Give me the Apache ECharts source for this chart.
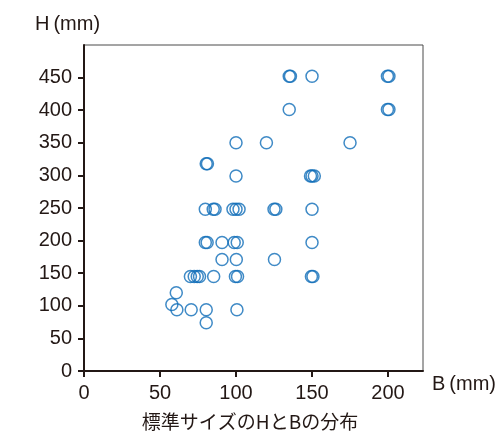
<!DOCTYPE html>
<html>
<head>
<meta charset="utf-8">
<script src="https://cdn.jsdelivr.net/npm/echarts@6/dist/echarts.min.js"></script>
<style>
html,body{margin:0;padding:0;background:#fff;}
#chart{width:500px;height:435px;}
</style>
</head>
<body>
<div id="chart"></div>
<script>
// B (mm) values
const bValues = [
  135, 135.8, 150, 199.6, 200.6,
  135, 199.6, 200.6,
  80.4, 81.2,
  100, 120, 175,
  100, 149, 150, 151.5,
  79.8, 85, 86.2, 98, 100, 102, 125, 126.2, 150,
  79.8, 81, 90.8, 98.8, 100.8, 150,
  90.8, 100.2, 125.3,
  70, 72.5, 74.5, 76, 85.3, 99.6, 101, 149.6, 150.6,
  60.7, 57.8, 61.1, 70.5, 80.4, 80.4, 100.6
];
// H (mm) values
const hValues = [
  452, 452, 452, 452, 452,
  401, 401, 401,
  318, 318,
  350, 350, 350,
  299, 299, 299, 299,
  248, 248, 248, 248, 248, 248, 248, 248, 248,
  197, 197, 197, 197, 197, 197,
  171, 171, 171,
  145, 145, 145, 145, 145, 145, 145, 145, 145,
  120, 102, 94, 94, 94, 74, 94
];
const xTicks = [0, 50, 100, 150, 200];
const yTicks = [0, 50, 100, 150, 200, 250, 300, 350, 400, 450];
const xAxisTitle = 'B\u2009(mm)';
const yAxisTitle = 'H\u2009(mm)';
const caption = '標準サイズのHとBの分布';

const points = bValues.map((b, i) => [b, hValues[i]]);
const ink = '#231815';
const blue = '#0f6db8';
const numFont = 'Liberation Sans';

const chart = echarts.init(document.getElementById('chart'), null, {renderer: 'canvas'});
chart.setOption({
  animation: false,
  backgroundColor: '#fff',
  grid: {
    left: 84, top: 45, right: 77, bottom: 64,
    show: true, borderColor: '#4a4a4a', borderWidth: 1,
    backgroundColor: 'transparent',
    containLabel: false, outerBoundsMode: 'none'
  },
  xAxis: {
    type: 'value', min: 0, max: 223,
    axisLine: {show: true, onZero: false, lineStyle: {color: ink, width: 2}},
    axisTick: {show: true, length: 6, customValues: xTicks, lineStyle: {color: ink, width: 2}},
    axisLabel: {customValues: xTicks, margin: 12, fontFamily: numFont, fontSize: 20, color: ink},
    splitLine: {show: false}
  },
  yAxis: {
    type: 'value', min: 0, max: 500,
    axisLine: {show: true, onZero: false, lineStyle: {color: ink, width: 2}},
    axisTick: {show: true, length: 6, customValues: yTicks, lineStyle: {color: ink, width: 2}},
    axisLabel: {customValues: yTicks, margin: 12, fontFamily: numFont, fontSize: 20, color: ink},
    splitLine: {show: false}
  },
  graphic: [
    {type: 'text', left: 35, top: 14, style: {text: yAxisTitle, fontFamily: numFont, fontSize: 20, fill: ink}},
    {type: 'text', left: 432, top: 374, style: {text: xAxisTitle, fontFamily: numFont, fontSize: 20, fill: ink}},
    {type: 'text', left: 'center', top: 412, style: {text: caption, fontFamily: 'Noto Sans CJK JP', fontSize: 19, fill: ink}}
  ],
  series: [{
    type: 'scatter',
    data: points,
    symbol: 'circle',
    symbolSize: 12,
    itemStyle: {color: 'transparent', borderColor: blue, borderWidth: 1.5}
  }]
});
</script>
</body>
</html>
